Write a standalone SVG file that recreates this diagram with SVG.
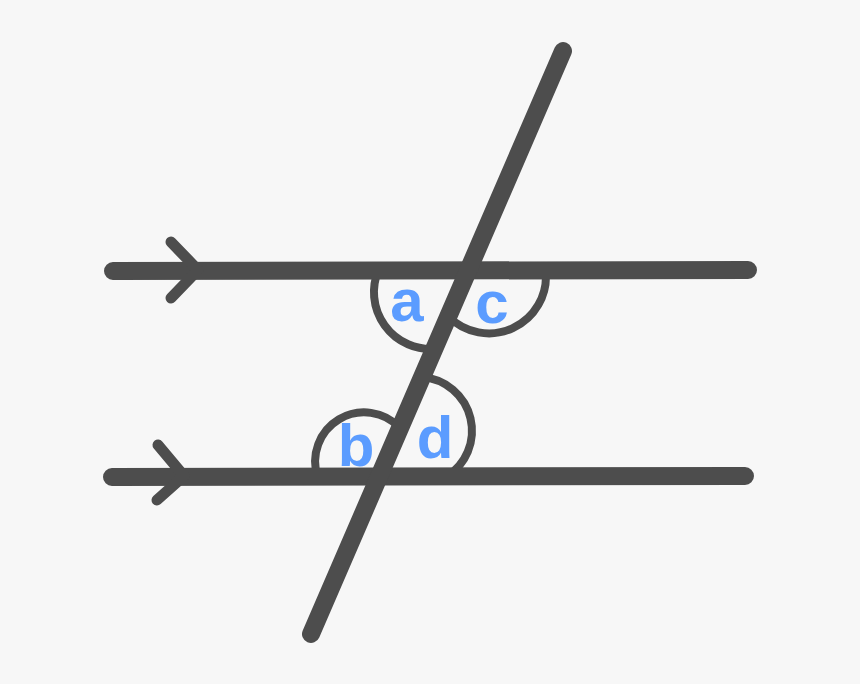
<svg xmlns="http://www.w3.org/2000/svg" width="860" height="684" viewBox="0 0 860 684">
<style>
.ln{stroke:#4d4d4d;stroke-width:18;stroke-linecap:round;fill:none}
.chev{stroke:#4d4d4d;stroke-width:11;stroke-linecap:round;stroke-linejoin:round;fill:none}
.arc{stroke:#4d4d4d;stroke-width:8;fill:none}
.lbl{font-family:"Liberation Sans",Arial,sans-serif;font-weight:bold;font-size:60px;fill:#5b9cff;text-anchor:middle}
</style>
<rect width="860" height="684" fill="#f7f7f7"/>
<g id="arcs">
<path class="arc" d="M378,271 A57,57 0 0 0 434,349"/>
<path class="arc" d="M545.7,271 A57,57 0 0 1 448,316"/>
<path class="arc" d="M317.7,477 A49,49 0 0 1 400,428"/>
<path class="arc" d="M422,377 A54,54 0 0 1 446,477"/>
</g>
<g id="connectors">
<line class="ln" x1="113" y1="271" x2="748" y2="270"/>
<line class="ln" x1="112" y1="477" x2="745" y2="476"/>
<line class="ln" x1="563" y1="51" x2="311" y2="634"/>
<path class="chev" d="M171,242 L198,270 L171,298"/>
<path class="chev" d="M158,445 L184,476 L157,500"/>
</g>
<g id="labels">
<text class="lbl" x="407" y="321">a</text>
<text class="lbl" x="492" y="323">c</text>
<text class="lbl" x="356" y="466">b</text>
<text class="lbl" x="435" y="458">d</text>
</g>
</svg>
